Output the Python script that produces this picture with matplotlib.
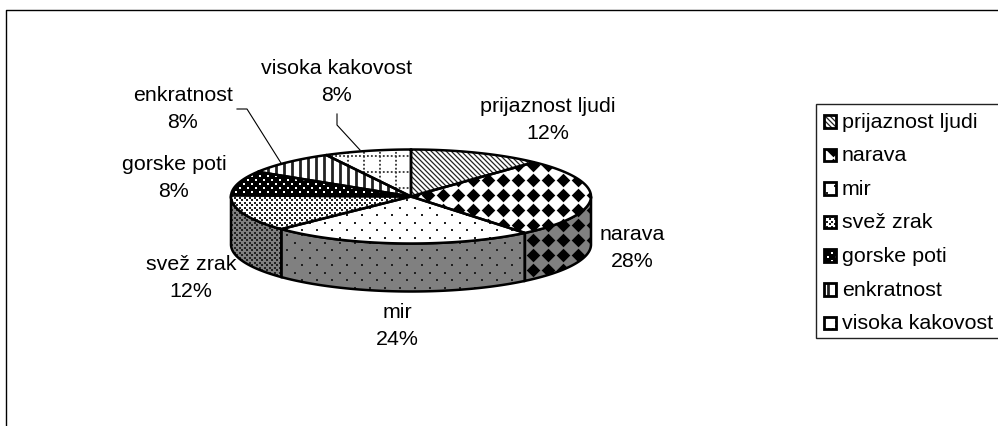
import numpy as np
import matplotlib
matplotlib.use('Agg')
import matplotlib.pyplot as plt
from matplotlib.patches import Polygon, Rectangle

plt.rcParams['font.family'] = ['Liberation Sans', 'DejaVu Sans']

categories = ['prijaznost ljudi', 'narava', 'mir', 'svež zrak', 'gorske poti', 'enkratnost', 'visoka kakovost']
# the printed labels are rounded
values = [12, 27.1, 23.7, 12.6, 8.4, 8.4, 7.8]
percent_labels = ['12%', '28%', '24%', '12%', '8%', '8%', '8%']
label_pos = [(548, 120), (632, 248), (397, 326), (191, 278), (174, 178), (183, 109), (337, 82)]

cx, cy, rx, ry, depth = 411, 196.5, 180, 47, 48
GRAY = '#808080'
FS = 15.4


def texture(ax, kind, clip, x0, y0, x1, y1):
    # patterns drawn in pixel space and clipped to the slice
    z = clip.get_zorder()

    def dots(sx, sy, size, color):
        pts = []
        for j, y in enumerate(np.arange(y0 - sy, y1 + sy, sy)):
            off = sx / 2 if j % 2 else 0
            for x in np.arange(x0 - sx, x1 + sx, sx):
                pts.append((x + off, y))
        pts = np.array(pts)
        s = ax.scatter(pts[:, 0], pts[:, 1], s=size, c=color, marker='s', linewidths=0, zorder=z)
        s.set_clip_path(clip)

    if kind == 'diag':
        for c in np.arange(x0 - (y1 - y0), x1 + (y1 - y0), 5):
            l, = ax.plot([c, c + (y1 - y0)], [y0, y1], color='#222222', lw=0.9, zorder=z)
            l.set_clip_path(clip)
    elif kind == 'diamond':
        X, Y = np.meshgrid(np.arange(8, 998, 15), np.arange(0, 426, 15))
        s = ax.scatter(X.ravel(), Y.ravel(), s=48, c='black', marker='D', linewidths=0, zorder=z)
        s.set_clip_path(clip)
    elif kind == 'sparse':
        dots(15, 7.5, 3, '#222222')
    elif kind == 'dense':
        dots(5, 2.5, 2.2, '#222222')
    elif kind == 'white':
        dots(8, 4, 2.6, 'white')
    elif kind == 'vert':
        for x in np.arange(x0, x1, 8):
            l, = ax.plot([x, x], [y0, y1], color='#222222', lw=2.0, zorder=z)
            l.set_clip_path(clip)
    elif kind == 'grid':
        for x in np.arange(x0, x1, 16):
            l, = ax.plot([x, x], [y0, y1], color='#333333', lw=1.3, ls=(0, (1, 1.2)), zorder=z)
            l.set_clip_path(clip)
        for y in np.arange(y0, y1, 16):
            l, = ax.plot([x0, x1], [y, y], color='#333333', lw=1.3, ls=(0, (1, 1.2)), zorder=z)
            l.set_clip_path(clip)


fig = plt.figure(figsize=(9.98, 4.26), dpi=100)
ax = fig.add_axes([0, 0, 1, 1])
ax.set_xlim(0, 998)
ax.set_ylim(426, 0)
ax.axis('off')

# chart frame
ax.plot([6.5, 6.5, 998], [426, 10, 10], color='black', lw=1.0)

kinds = ['diag', 'diamond', 'sparse', 'dense', 'white', 'vert', 'grid']
faces = ['white', 'white', 'white', 'white', 'black', 'white', 'white']

edges = np.cumsum([0] + values) / sum(values) * 2 * np.pi


def rim(a, b, n=80):
    t = np.linspace(a, b, n)
    return cx + rx * np.sin(t), cy - ry * np.cos(t), t


# side wall, only the front half (angles 90..270 degrees)
for i in range(len(values)):
    a = max(edges[i], np.pi / 2)
    b = min(edges[i + 1], 3 * np.pi / 2)
    if b <= a:
        continue
    x, y, t = rim(a, b)
    pts = np.vstack([np.column_stack([x, y]), np.column_stack([x[::-1], y[::-1] + depth])])
    p = Polygon(pts, facecolor=GRAY, edgecolor='none', zorder=2)
    ax.add_patch(p)
    texture(ax, kinds[i], p, 220, 190, 600, 300)
    ax.add_patch(Polygon(pts, facecolor='none', edgecolor='black', lw=1.8, zorder=3))

# top faces
for i in range(len(values)):
    x, y, t = rim(edges[i], edges[i + 1])
    pts = np.vstack([[cx, cy], np.column_stack([x, y])])
    p = Polygon(pts, facecolor=faces[i], edgecolor='none', zorder=4)
    ax.add_patch(p)
    texture(ax, kinds[i], p, 220, 140, 600, 250)
    ax.add_patch(Polygon(pts, facecolor='none', edgecolor='black', lw=1.8, zorder=5))

# leader lines
ax.plot([237, 247, 281], [109, 109, 163], color='black', lw=0.8, zorder=6)
ax.plot([337, 337, 360], [114, 125, 150], color='black', lw=0.8, zorder=6)

for name, pct, (lx, ly) in zip(categories, percent_labels, label_pos):
    ax.text(lx, ly, name + '\n' + pct, ha='center', va='center', fontsize=FS, color='black', linespacing=1.47, zorder=7)

# legend
ax.add_patch(Rectangle((816, 104), 190, 234, facecolor='white', edgecolor='#222222', lw=1.0, zorder=2))
for i, name in enumerate(categories):
    ky = 121 + i * 33.6
    k = Rectangle((824, ky - 6), 12.5, 12.5, facecolor=faces[i], edgecolor='none', zorder=3)
    ax.add_patch(k)
    texture(ax, kinds[i], k, 820, ky - 10, 840, ky + 10)
    ax.add_patch(Rectangle((824, ky - 6), 12.5, 12.5, facecolor='none', edgecolor='black', lw=2.0, zorder=4))
    ax.text(842, ky + 1, name, ha='left', va='center', fontsize=FS, color='black', zorder=5)

fig.savefig('out.png', dpi=100)
